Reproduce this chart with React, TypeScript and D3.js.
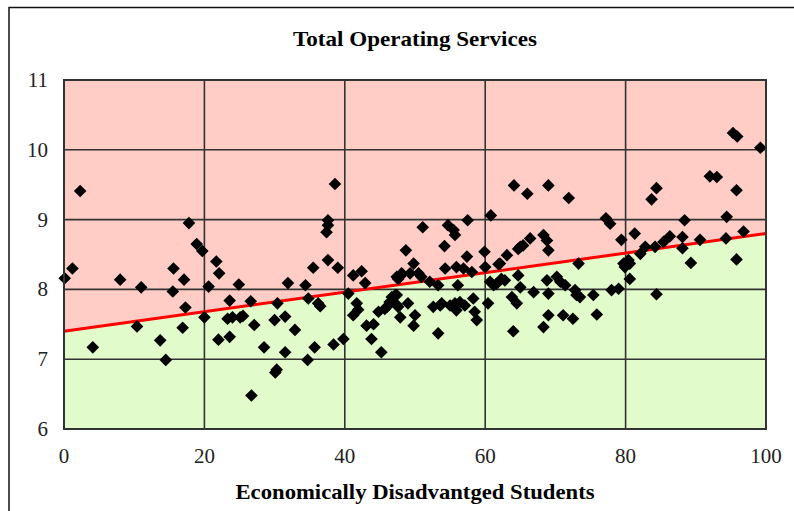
import React from "react";
import * as d3 from "d3";

const title = "Total Operating Services";
const xTitle = "Economically Disadvantged Students";

const xTicks = [0, 20, 40, 60, 80, 100];
const yTicks = [6, 7, 8, 9, 10, 11];

// trend line end points
const trendX = [0, 100];
const trendY = [7.4, 8.8];

// scatter points (x = % economically disadvantaged, y = score)
const xValues = [
  0.1, 1.2, 2.3, 4.1, 8.0, 11.0, 10.4, 13.7, 14.5, 15.6, 17.1, 15.5, 17.3, 16.9, 17.8, 18.9, 19.7, 20.6, 21.7, 22.1,
  20.0, 22.0, 23.6, 23.6, 24.9, 23.3, 24.0, 25.1, 25.5, 26.6, 27.1, 28.5, 26.7, 30.0, 30.4, 31.5, 31.5, 30.1, 30.3, 31.9,
  34.4, 34.8, 36.2, 36.5, 32.9, 35.7, 34.7, 38.4, 39.8, 38.6, 37.6, 37.6, 37.4, 37.6, 35.5, 39.0,
  40.5, 41.2, 42.4, 42.9, 41.7, 41.9, 41.2, 43.1, 44.1, 43.8, 45.2, 44.8, 45.7, 46.0, 46.4, 46.7, 47.2, 47.4, 47.6, 47.9,
  49.0, 50.0, 49.8, 47.6, 47.9, 48.7, 49.8, 49.3, 50.5, 50.9, 51.1, 52.1, 53.3, 52.6, 53.3, 53.6, 53.8, 54.3, 54.2, 54.7,
  55.5, 55.7, 57.5, 57.4, 55.9, 56.1, 56.9, 58.1, 59.9, 60.0, 60.7, 61.2, 61.9, 60.8, 55.0, 55.7, 56.4, 57.1, 55.9, 58.3,
  58.5, 58.8, 60.4, 47.4, 48.1, 47.4,
  63.1, 62.1, 64.1, 66.0, 69.0, 71.9, 77.2, 77.8, 79.4, 66.4, 65.0, 64.7, 65.4, 68.3, 68.8, 69.0, 73.3, 62.3, 61.6, 62.8,
  64.7, 65.0, 63.8, 64.5, 66.9, 68.8, 69.0, 70.2, 70.7, 71.4, 72.8, 73.5, 73.0, 75.4, 78.0, 79.0, 64.0, 68.3, 69.0, 71.1,
  72.5, 75.9, 79.7,
  81.3, 80.6, 80.4, 84.4, 83.7, 88.4, 92.0, 93.0, 95.8, 95.3, 95.9, 99.2, 94.4, 96.8, 94.3, 90.6, 88.1, 88.1, 86.3, 85.4,
  84.2, 82.8, 82.1, 80.6, 79.9, 89.3, 95.8, 84.4,
];
const yValues = [
  8.16, 8.3, 9.41, 7.17, 8.14, 8.03, 7.47, 7.27, 6.99, 8.3, 8.14, 7.97, 7.74, 7.45, 8.95, 8.65, 8.55, 8.04, 8.4, 8.23,
  7.6, 7.28, 7.32, 7.84, 8.07, 7.58, 7.6, 7.6, 7.62, 7.83, 7.49, 7.17, 6.48, 7.56, 7.8, 7.61, 7.1, 6.81, 6.85, 8.09,
  8.06, 7.87, 7.8, 7.76, 7.42, 7.17, 6.99, 7.21, 7.29, 9.51, 8.99, 8.92, 8.82, 8.42, 8.31, 8.31,
  7.94, 8.2, 8.26, 8.09, 7.8, 7.71, 7.63, 7.48, 7.5, 7.29, 7.1, 7.68, 7.72, 7.75, 7.82, 7.89, 7.92, 7.92, 7.75, 7.6,
  7.8, 7.63, 7.48, 8.15, 8.19, 8.56, 8.37, 8.23, 8.23, 8.18, 8.89, 8.11, 8.06, 7.75, 7.37, 7.77, 7.8, 8.3, 8.62, 8.92,
  8.85, 8.78, 8.99, 8.47, 8.32, 8.06, 8.3, 8.25, 8.54, 8.32, 8.11, 8.06, 8.36, 9.06, 7.77, 7.8, 7.82, 7.77, 7.7, 7.87,
  7.68, 7.56, 7.8, 8.18, 8.23, 7.78,
  8.49, 8.37, 9.49, 9.37, 9.49, 9.31, 9.02, 8.94, 8.71, 8.73, 8.61, 8.58, 8.63, 8.78, 8.7, 8.56, 8.37, 8.15, 8.08, 8.13,
  8.2, 8.03, 7.89, 7.8, 7.96, 8.13, 7.94, 8.18, 8.11, 8.06, 7.99, 7.89, 7.92, 7.92, 7.99, 8.01, 7.4, 7.46, 7.63, 7.63,
  7.58, 7.64, 8.37,
  8.8, 8.15, 8.42, 9.45, 9.29, 8.99, 9.62, 9.61, 9.42, 10.24, 10.19, 10.03, 9.04, 8.83, 8.73, 8.71, 8.75, 8.59, 8.76, 8.68,
  8.61, 8.61, 8.51, 8.37, 8.32, 8.38, 8.43, 7.93,
];

const W = 794;
const H = 511;
const plot = { left: 64, right: 766, top: 80, bottom: 429 };

export default function App() {
  const x = d3.scaleLinear().domain([0, 100]).range([plot.left, plot.right]);
  const y = d3.scaleLinear().domain([6, 11]).range([plot.bottom, plot.top]);

  const trend = trendX.map((v, i) => [v, trendY[i]] as [number, number]);
  const lower = d3
    .area<[number, number]>()
    .x((d) => x(d[0]))
    .y0(y(6))
    .y1((d) => y(d[1]))(trend);
  const trendPath = d3
    .line<[number, number]>()
    .x((d) => x(d[0]))
    .y((d) => y(d[1]))(trend);

  const diamond = d3.symbol().type(d3.symbolSquare).size(80)();
  const points = xValues.map((v, i) => ({ x: v, y: yValues[i] }));

  const font = "'Liberation Serif', 'Times New Roman', serif";
  const grid = "#333333";

  return (
    <svg
      width={W}
      height={H}
      style={{ position: "absolute", left: 0, top: 0, background: "#fff" }}
      fontFamily={font}
    >
      <rect x={9} y={7.5} width={820} height={540} fill="#fff" stroke="#111" strokeWidth={1.5} />

      <text
        x={415}
        y={46}
        textAnchor="middle"
        fontWeight="bold"
        fontSize={21}
        fill="#000"
        textLength={244}
        lengthAdjust="spacingAndGlyphs"
      >
        {title}
      </text>

      <rect
        x={plot.left}
        y={plot.top}
        width={plot.right - plot.left}
        height={plot.bottom - plot.top}
        fill="#FFCCC6"
      />
      <path d={lower || ""} fill="#E1FBCB" />

      {xTicks.map((t) => (
        <line key={"gx" + t} x1={x(t)} x2={x(t)} y1={plot.top} y2={plot.bottom} stroke={grid} strokeWidth={1.6} />
      ))}
      {yTicks.map((t) => (
        <line key={"gy" + t} x1={plot.left} x2={plot.right} y1={y(t)} y2={y(t)} stroke={grid} strokeWidth={1.6} />
      ))}

      <path d={trendPath || ""} fill="none" stroke="#FF0000" strokeWidth={3} />

      {points.map((p, i) => (
        <path
          key={i}
          d={diamond || ""}
          transform={`translate(${x(p.x)},${y(p.y)}) rotate(45)`}
          fill="#000"
        />
      ))}

      <rect
        x={plot.left}
        y={plot.top}
        width={plot.right - plot.left}
        height={plot.bottom - plot.top}
        fill="none"
        stroke={grid}
        strokeWidth={2}
      />

      {yTicks.map((t) => (
        <text key={"ly" + t} x={48} y={y(t) + 7} textAnchor="end" fontSize={21} fill="#222">
          {t}
        </text>
      ))}
      {xTicks.map((t) => (
        <text key={"lx" + t} x={x(t)} y={463} textAnchor="middle" fontSize={21} fill="#222">
          {t}
        </text>
      ))}

      <text
        x={415}
        y={499}
        textAnchor="middle"
        fontWeight="bold"
        fontSize={21}
        fill="#000"
        textLength={359}
        lengthAdjust="spacingAndGlyphs"
      >
        {xTitle}
      </text>
    </svg>
  );
}
